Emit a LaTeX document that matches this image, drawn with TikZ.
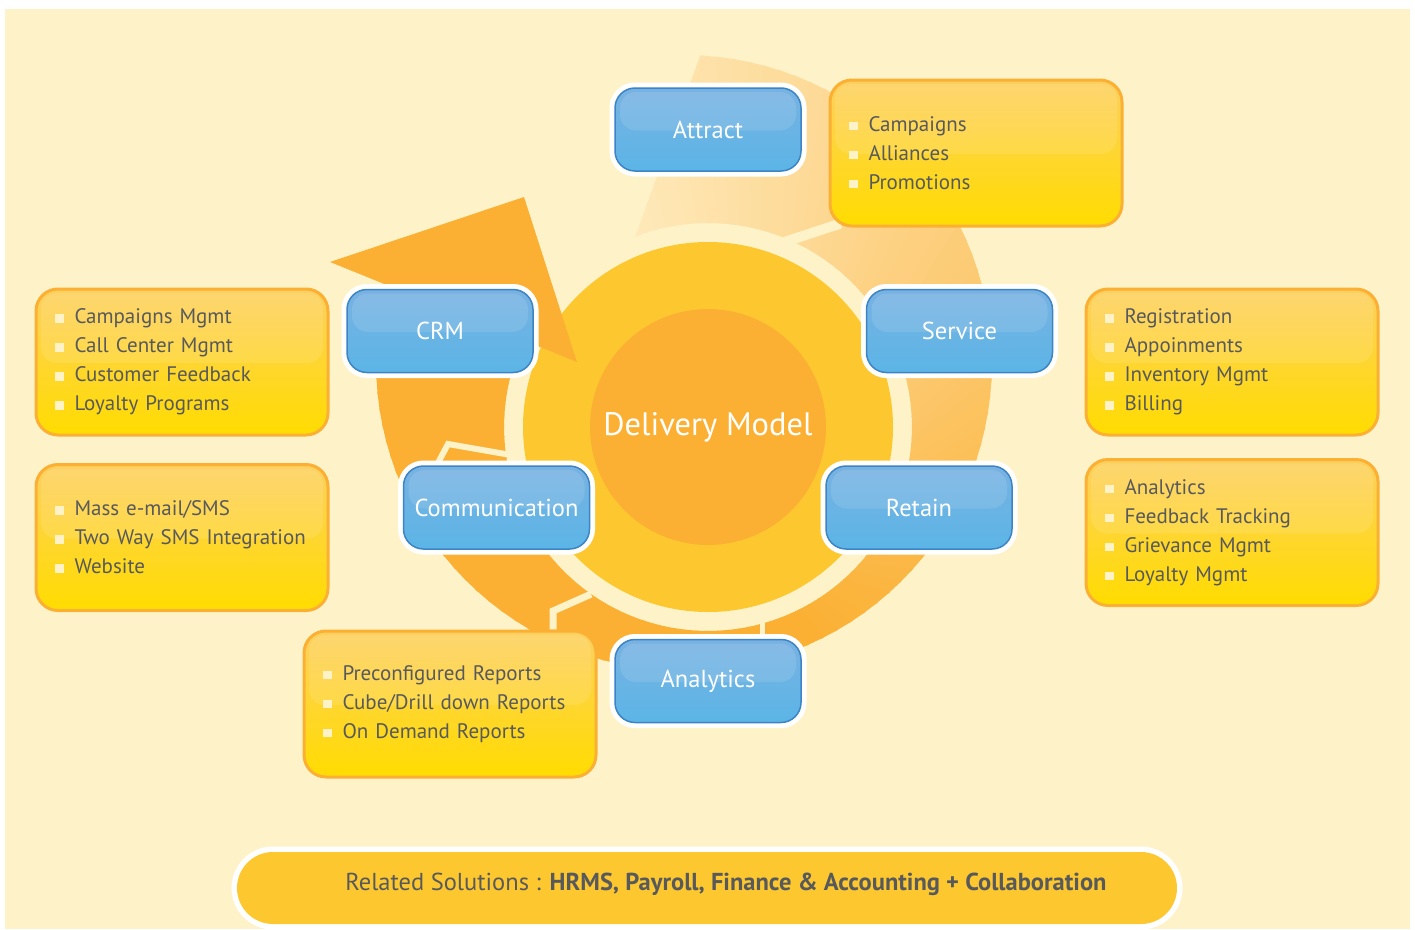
\documentclass[tikz,border=0pt]{standalone}
\usepackage{fontspec}
\setmainfont{PT Sans}
\usetikzlibrary{calc}
\definecolor{bgcream}{HTML}{FEF3C8}
\definecolor{ringorange}{HTML}{FBB034}
\definecolor{ringpale}{HTML}{FEE8B8}
\definecolor{ringyellow}{HTML}{FDC82F}
\definecolor{listgray}{HTML}{58595B}
\definecolor{listtop}{HTML}{FDD060}
\definecolor{listmid}{HTML}{FDC622}
\definecolor{listbot}{HTML}{FFDC00}
\definecolor{bluetop}{HTML}{78B2E2}
\definecolor{bluemid}{HTML}{4696D3}
\definecolor{bluebot}{HTML}{5BB5E6}
\definecolor{blueedge}{HTML}{3C84C4}
\pgfdeclarelayer{bg}
\pgfsetlayers{bg,main}
\newcommand{\blt}{\textcolor{bgcream}{\rule[1pt]{8.5pt}{8.5pt}}\hspace{11pt}}

\begin{document}
\begin{tikzpicture}[x=1pt, y=-1pt,
    gloss/.style={path picture={
        \fill[white, opacity=.11, rounded corners=16pt]
          ($(path picture bounding box.north west)+(5pt,-4pt)$) rectangle
          ($(path picture bounding box.east)+(-5pt,-1pt)$);}},
    bluebox/.style={rounded corners=20pt, draw=blueedge, line width=1.5pt,
        top color=bluetop, middle color=bluemid, bottom color=bluebot,
        preaction={draw=white, line width=11pt}, gloss,
        minimum width=186pt, minimum height=83pt, inner sep=0pt,
        text=white, font=\fontsize{24.5}{28}\selectfont},
    listbox/.style={rounded corners=22pt, draw=ringorange, line width=3pt,
        top color=listtop, middle color=listmid, bottom color=listbot, gloss,
        minimum width=292pt, minimum height=146pt, text width=254pt,
        inner xsep=19pt, inner ysep=0pt, align=left,
        text=listgray, font=\fontsize{21}{29}\selectfont},
    core/.style={circle, fill=ringorange, minimum size=236pt, inner sep=0pt,
        text=white, font=\fontsize{32.5}{38}\selectfont},
    relbar/.style={rounded corners=36pt, fill=ringyellow,
        preaction={draw=white, line width=11pt},
        minimum width=940pt, minimum height=72pt},
    sep/.style={draw=bgcream, line width=7pt}]
\useasboundingbox (0,0) rectangle (1415,929);

\node[core] (core) at (708,427) {Delivery Model};

\node[bluebox] (attract) at (708,129.5) {Attract};
\node[bluebox] (crm) at (440,331) {CRM};
\node[bluebox] (service) at (959.5,331) {Service};
\node[bluebox] (comm) at (496.5,507.5) {Communication};
\node[bluebox] (retain) at (919,507.5) {Retain};
\node[bluebox] (analytics) at (708,681) {Analytics};

\node[listbox] (attractlist) at (976,153) {\blt Campaigns\\ \blt Alliances\\ \blt Promotions};
\node[listbox] (crmlist) at (182,362) {\blt Campaigns Mgmt\\ \blt Call Center Mgmt\\ \blt Customer Feedback\\ \blt Loyalty Programs};
\node[listbox] (commlist) at (182,537.5) {\blt Mass e-mail/SMS\\ \blt Two Way SMS Integration\\ \blt Website};
\node[listbox] (reportlist) at (450,704) {\blt Preconfigured Reports\\ \blt Cube/Drill down Reports\\ \blt On Demand Reports};
\node[listbox] (servicelist) at (1232,362) {\blt Registration\\ \blt Appoinments\\ \blt Inventory Mgmt\\ \blt Billing};
\node[listbox] (retainlist) at (1232,532.5) {\blt Analytics\\ \blt Feedback Tracking\\ \blt Grievance Mgmt\\ \blt Loyalty Mgmt};

\node[relbar] (relbar) at (707,888) {};
\node[text=listgray, font=\fontsize{24.5}{28}\selectfont] (reltext) at (726,884)
    {Related Solutions : \textbf{HRMS, Payroll, Finance \& Accounting + Collaboration}};

\begin{pgfonlayer}{bg}
\fill[white] (0,0) rectangle (1415,929);
\fill[bgcream] (5,9) rectangle (1410,929);
\coordinate (ringc) at (684,363);
\begin{scope}
    \clip (577,362) -- (0,128) -- (0,929) -- (1415,929) -- (1415,0) -- (720,0) -- (637,232) -- cycle;
    \foreach \a in {-114,-111,...,213}{
        \pgfmathsetmacro\b{\a+3.6}
        \pgfmathsetmacro\p{min(100,max(0,(\a+108)/1.7))}
        \colorlet{segcol}{ringorange!\p!ringpale}
        \fill[segcol] ($(ringc)+(\a:308)$) -- ($(ringc)+(\b:308)$)
            -- ($(core)+(\b:204)$) -- ($(core)+(\a:204)$) -- cycle;
    }
\end{scope}
\fill[ringyellow] (core) circle[radius=185pt];
\fill[ringorange] (330,262) -- (524,197) -- (577,362) -- cycle;

\coordinate (g1) at ($(core)+(-69:196)$);
\coordinate (g2) at ($(core)+(172:200)$);
\coordinate (b2) at (448,444);
\coordinate (g3) at ($(core)+(125:204)$);
\coordinate (b3) at (553,611);
\coordinate (g4) at ($(core)+(74:196)$);
\draw[sep, line width=10pt] (g1) -- ($(attractlist.south west)+(12pt,4pt)$);
\draw[sep, line width=6pt] (g2) -- (b2) -- ($(comm.north west)+(34pt,0pt)$);
\draw[sep] (g3) -- (b3) -- (b3 |- reportlist.north);
\draw[sep, line width=5pt] (g4) -- (g4 |- analytics.north);
\end{pgfonlayer}
\end{tikzpicture}
\end{document}
